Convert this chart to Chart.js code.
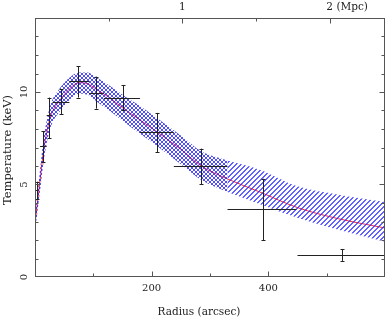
<!DOCTYPE html>
<html>
<head>
<meta charset="utf-8">
<script src="https://cdn.jsdelivr.net/npm/chart.js@4.4.1/dist/chart.umd.min.js"></script>
<style>
html,body{margin:0;padding:0;background:#fff;}
canvas{display:block;}
</style>
</head>
<body>
<canvas id="c" width="386" height="319"></canvas>
<script>
// ---- data ----
const modelR = [0, 3, 6, 10, 15, 20, 25, 30, 40, 50, 60, 75, 90, 105, 125, 150, 175, 200, 250, 285, 330, 385, 450, 520, 600];
const modelT = [2.9, 3.7, 4.5, 5.6, 6.9, 7.8, 8.5, 8.95, 9.45, 9.85, 10.2, 10.5, 10.45, 10.15, 9.75, 9.15, 8.6, 8.05, 6.9, 6.0, 5.3, 4.6, 3.75, 3.15, 2.65];
const bandR = [0, 3, 6, 10, 15, 20, 25, 30, 40, 50, 60, 75, 90, 105, 125, 150, 175, 200, 250, 285, 330, 385, 450, 520, 600];
const bandUpper = [3.3, 4.2, 5.0, 6.2, 7.55, 8.45, 9.15, 9.6, 10.1, 10.5, 10.8, 11.05, 11.05, 10.8, 10.4, 9.85, 9.35, 8.8, 7.65, 6.8, 6.3, 5.8, 4.9, 4.45, 4.05];
const bandLower = [2.5, 3.2, 4.0, 5.0, 6.3, 7.2, 7.9, 8.35, 8.85, 9.25, 9.6, 9.9, 9.85, 9.5, 9.05, 8.45, 7.85, 7.3, 6.1, 5.25, 4.6, 3.95, 3.2, 2.55, 1.9];
const crossEndR = 330;

const ptR   = [3, 14, 24, 45, 74, 105, 150, 209, 284, 390, 526];
const ptT   = [4.7, 7.07, 8.75, 9.47, 10.57, 9.97, 9.66, 7.84, 5.98, 3.68, 1.2];
const ptRlo = [0, 8.6, 20, 30, 59, 93, 118, 180, 238, 330, 450];
const ptRhi = [6, 20, 29, 59, 93, 118, 180, 238, 330, 448, 600];
const ptTlo = [4.2, 6.2, 7.5, 8.8, 9.7, 9.1, 9.0, 6.76, 5.0, 2.0, 0.87];
const ptThi = [5.15, 7.88, 9.7, 10.15, 11.4, 10.83, 10.38, 8.87, 6.94, 5.31, 1.5];

const xTickValues = [100, 200, 300, 400, 500];
const xTickLabels = {200: "200", 400: "400"};
const yTickValues = [1,2,3,4,5,6,7,8,9,10,11,12,13];
const yTickLabels = {0: "0", 5: "5", 10: "10"};
const mpcTickValues = [0.5, 1, 1.5, 2];
const mpcTickLabels = {1: "1", 2: "2 (Mpc)"};
const arcsecPerMpc = 252.6;

// ---- pixel hatch patterns ----
function makePattern(cross) {
  const size = cross ? 4 : 5;
  const c = document.createElement('canvas');
  c.width = size; c.height = size;
  const g = c.getContext('2d');
  if (cross) {
    g.fillStyle = 'rgba(30,30,255,0.78)';
    for (let i = 0; i < size; i++) {
      g.fillRect(i, size - 1 - i, 1, 1);
      g.fillRect(i, i, 1, 1);
    }
  } else {
    g.fillStyle = 'rgba(45,45,255,0.75)';
    for (let y = 0; y < size; y++) {
      g.fillRect((size - 1 - y), y, 1, 1);
      g.fillRect((size - y) % size, y, 1, 1);
    }
  }
  return g.createPattern(c, 'repeat');
}
const crossPat = makePattern(true);
const hatchPat = makePattern(false);

function pts(xs, ys, filt) {
  const out = [];
  for (let i = 0; i < xs.length; i++) if (!filt || filt(xs[i])) out.push({x: xs[i], y: ys[i]});
  return out;
}
const inCross = r => r <= crossEndR;
const inHatch = r => r >= crossEndR;

const bandStyle = {type: 'line', pointRadius: 0, borderWidth: 0, borderColor: 'rgba(0,0,0,0)', tension: 0.3, cubicInterpolationMode: 'monotone'};

const FONT = '"DejaVu Serif", serif';

const axesPlugin = {
  id: 'axesPlugin',
  afterDatasetsDraw(chart) {
    const ctx = chart.ctx;
    const xs = chart.scales.x, ys = chart.scales.y;
    ctx.save();
    ctx.strokeStyle = '#222';
    ctx.lineWidth = 1;
    ctx.beginPath();
    for (let i = 0; i < ptR.length; i++) {
      const px = Math.round(xs.getPixelForValue(ptR[i])) + 0.5;
      const py = Math.round(ys.getPixelForValue(ptT[i])) + 0.5;
      const x0 = xs.getPixelForValue(ptRlo[i]), x1 = xs.getPixelForValue(ptRhi[i]);
      const y0 = ys.getPixelForValue(ptTlo[i]), y1 = ys.getPixelForValue(ptThi[i]);
      ctx.moveTo(x0, py); ctx.lineTo(x1, py);
      ctx.moveTo(px, y0); ctx.lineTo(px, y1);
      ctx.moveTo(px - 2, Math.round(y0) + 0.5); ctx.lineTo(px + 2, Math.round(y0) + 0.5);
      ctx.moveTo(px - 2, Math.round(y1) + 0.5); ctx.lineTo(px + 2, Math.round(y1) + 0.5);
    }
    ctx.stroke();
    ctx.restore();
  },
  afterDraw(chart) {
    const ctx = chart.ctx;
    const a = chart.chartArea;
    const xs = chart.scales.x, ys = chart.scales.y, x2 = chart.scales.x2;
    const L = Math.round(a.left) + 0.5, R = Math.round(a.right) - 0.5;
    const T = Math.round(a.top) + 0.5, B = Math.round(a.bottom) - 0.5;
    ctx.save();
    ctx.strokeStyle = '#555';
    ctx.lineWidth = 1;
    ctx.strokeRect(L, T, R - L, B - T);
    ctx.beginPath();
    xTickValues.forEach(v => {
      const px = Math.round(xs.getPixelForValue(v)) + 0.5;
      const len = (v in xTickLabels) ? 5 : 3;
      ctx.moveTo(px, B); ctx.lineTo(px, B - len);
    });
    mpcTickValues.forEach(v => {
      const px = Math.round(x2.getPixelForValue(v)) + 0.5;
      const len = (v in mpcTickLabels) ? 5 : 3;
      ctx.moveTo(px, T); ctx.lineTo(px, T + len);
    });
    yTickValues.forEach(v => {
      const py = Math.round(ys.getPixelForValue(v)) + 0.5;
      const len = (v in yTickLabels) ? 5 : 3;
      ctx.moveTo(L, py); ctx.lineTo(L + len, py);
      ctx.moveTo(R, py); ctx.lineTo(R - len, py);
    });
    ctx.stroke();

    ctx.fillStyle = '#222';
    ctx.font = '10px ' + FONT;
    ctx.textBaseline = 'middle';
    ctx.textAlign = 'center';
    Object.keys(xTickLabels).forEach(k => {
      ctx.fillText(xTickLabels[k], xs.getPixelForValue(+k), 288);
    });
    ctx.textAlign = 'left';
    ctx.font = '10.5px ' + FONT;
    Object.keys(mpcTickLabels).forEach(k => {
      const s = mpcTickLabels[k];
      const w0 = ctx.measureText(s[0]).width;
      ctx.fillText(s, x2.getPixelForValue(+k) - w0 / 2, 7);
    });
    ctx.font = '10px ' + FONT;
    ctx.textAlign = 'center';
    Object.keys(yTickLabels).forEach(k => {
      ctx.save();
      ctx.translate(24, ys.getPixelForValue(+k));
      ctx.rotate(-Math.PI / 2);
      ctx.fillText(yTickLabels[k], 0, 0);
      ctx.restore();
    });
    ctx.font = '10.5px ' + FONT;
    ctx.fillText('Radius (arcsec)', 199, 312);
    ctx.save();
    ctx.font = '11.5px ' + FONT;
    ctx.translate(8, 150);
    ctx.rotate(-Math.PI / 2);
    ctx.fillText('Temperature (keV)', 0, 0);
    ctx.restore();
    ctx.restore();
  }
};

new Chart(document.getElementById('c'), {
  data: {
    datasets: [
      Object.assign({}, bandStyle, {data: pts(bandR, bandUpper, inCross), fill: '+1', backgroundColor: crossPat}),
      Object.assign({}, bandStyle, {data: pts(bandR, bandLower, inCross), fill: false, backgroundColor: crossPat}),
      Object.assign({}, bandStyle, {data: pts(bandR, bandUpper, inHatch), fill: '+1', backgroundColor: hatchPat}),
      Object.assign({}, bandStyle, {data: pts(bandR, bandLower, inHatch), fill: false, backgroundColor: hatchPat}),
      {type: 'line', data: pts(modelR, modelT), borderColor: '#ff2a2a', backgroundColor: '#ff2a2a', borderWidth: 1, pointRadius: 0, fill: false, tension: 0.3, cubicInterpolationMode: 'monotone'},
      {type: 'scatter', data: pts(ptR, ptT), pointRadius: 0, showLine: false, backgroundColor: '#222', borderColor: '#222'}
    ]
  },
  options: {
    responsive: false,
    devicePixelRatio: 1,
    animation: false,
    layout: {padding: {left: 35, right: 1, top: 18, bottom: 42}},
    plugins: {legend: {display: false}, tooltip: {enabled: false}},
    scales: {
      x: {type: 'linear', display: false, min: 0, max: 600},
      x2: {type: 'linear', axis: 'x', display: false, min: 0, max: 600 / arcsecPerMpc},
      y: {type: 'linear', display: false, min: 0, max: 14}
    }
  },
  plugins: [axesPlugin]
});
</script>
</body>
</html>
